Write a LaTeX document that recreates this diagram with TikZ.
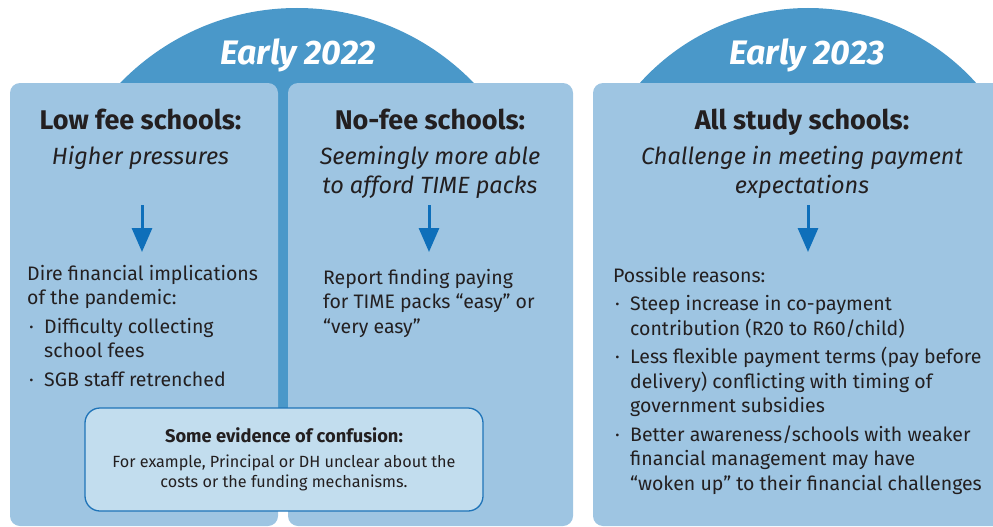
\documentclass[tikz,border=0pt]{standalone}
\usepackage{fontspec}
\setmainfont{Fira Sans}
\usetikzlibrary{arrows.meta}
\definecolor{arch}{HTML}{4A98C9}
\definecolor{panel}{HTML}{9EC5E2}
\definecolor{conffill}{HTML}{C2DDEE}
\definecolor{confdraw}{HTML}{1F74B8}
\definecolor{arrowc}{HTML}{0E6FBA}
\definecolor{ink}{HTML}{231F20}
\newcommand{\bul}{\makebox[17pt][l]{\hspace{2pt}·}}
\newcommand{\ind}{\hspace*{17pt}}
\begin{document}
\begin{tikzpicture}[x=1pt,y=-1pt,
  panelbox/.style={fill=panel, rounded corners=10pt},
  yearlabel/.style={anchor=base, inner sep=0, text=white, font=\fontsize{34}{40}\selectfont\bfseries\itshape},
  heading/.style={anchor=base, inner sep=0, text=ink, font=\fontsize{27}{32}\selectfont\bfseries},
  subhead/.style={anchor=base, inner sep=0, text=ink, align=center, font=\fontsize{23.5}{29}\selectfont\itshape},
  body/.style={anchor=base west, inner sep=0, text=ink, align=left, font=\fontsize{19.5}{24.5}\selectfont},
  downarrow/.style={draw=arrowc, line width=3pt, -{Triangle[length=24pt,width=20pt]}},
  confbox/.style={draw=confdraw, line width=1.3pt, fill=conffill, rounded corners=15pt,
    minimum width=398pt, minimum height=103pt, inner sep=0},
  conftitle/.style={anchor=base, inner sep=0, text=ink, font=\fontsize{18.3}{22}\selectfont\bfseries},
  conftext/.style={anchor=base, inner sep=0, text=ink, align=center, font=\fontsize{16.2}{20}\selectfont}
]
\useasboundingbox (0,0) rectangle (993,527);
% arches (domes above the panels)
\begin{scope}
  \clip (0,0) rectangle (993,95);
  \fill[arch] (297,254) circle[radius=246pt];
  \fill[arch] (808,234) circle[radius=226pt];
\end{scope}
\fill[arch] (270,90) rectangle (296,430);
% panels
\fill[panelbox] (10,83) rectangle (278,526);
\fill[panelbox] (288,83) rectangle (573,526);
\fill[panelbox] (593,83) rectangle (1010,526);
% year labels
\node[yearlabel] (y22) at (298,64) {Early 2022};
\node[yearlabel] (y23) at (807,64) {Early 2023};
% headings
\node[heading] (h1) at (140.5,129) {Low fee schools:};
\node[heading] (h2) at (430,129) {No-fee schools:};
\node[heading] (h3) at (802,129) {All study schools:};
\node[subhead] (s1) at (140.5,164) {Higher pressures};
\node[subhead] (s2) at (430,193) {Seemingly more able\\to afford TIME packs};
\node[subhead] (s3) at (802,193) {Challenge in meeting payment\\expectations};
% arrows
\coordinate (a1s) at (142,205); \coordinate (a1e) at (142,252);
\coordinate (a2s) at (429,205); \coordinate (a2e) at (429,252);
\coordinate (a3s) at (808,205); \coordinate (a3e) at (808,252);
\draw[downarrow] (a1s) -- (a1e);
\draw[downarrow] (a2s) -- (a2e);
\draw[downarrow] (a3s) -- (a3e);
% bodies (anchored at the baseline of their last line)
\node[body] (b1) at (27,386) {Dire financial implications\\of the pandemic:\\[4pt]\bul Difficulty collecting\\\ind school fees\\[4pt]\bul SGB staff retrenched};
\node[body] (b2) at (323,333) {Report finding paying\\for TIME packs “easy” or\\“very easy”};
\node[body] (b3) at (613,490) {Possible reasons:\\[4pt]\bul Steep increase in co-payment\\\ind contribution (R20 to R60/child)\\[4pt]\bul Less flexible payment terms (pay before\\\ind delivery) conflicting with timing of\\\ind government subsidies\\[4pt]\bul Better awareness/schools with weaker\\\ind financial management may have\\\ind “woken up” to their financial challenges};
% confusion box
\node[confbox] (conf) at (284,459.5) {};
\node[conftitle] (ct) at (284,442) {Some evidence of confusion:};
\node[conftext] (cb) at (284,487) {For example, Principal or DH unclear about the\\costs or the funding mechanisms.};
\end{tikzpicture}
\end{document}
